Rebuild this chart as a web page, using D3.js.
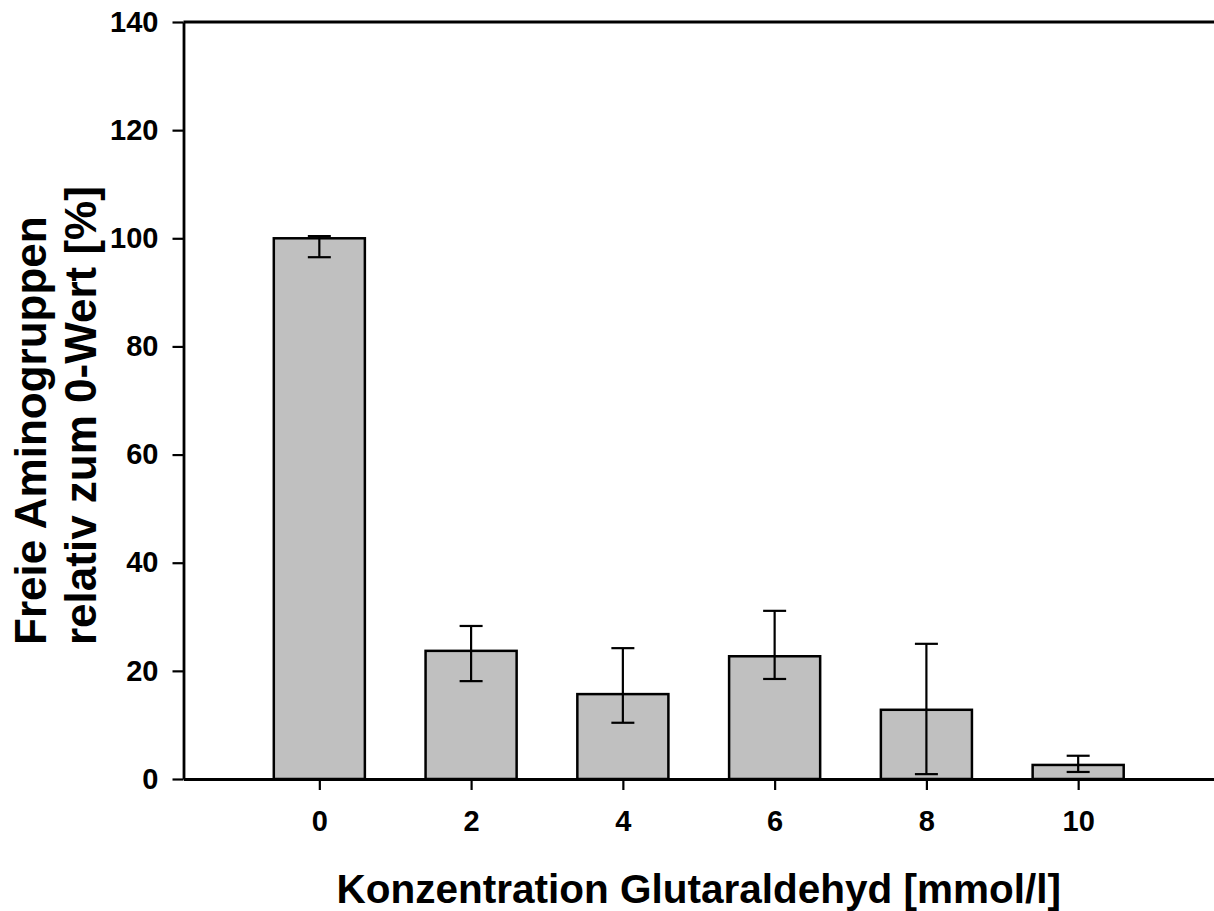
<!DOCTYPE html>
<html>
<head>
<meta charset="utf-8">
<script src="https://cdn.jsdelivr.net/npm/d3@7"></script>
<style>
  body { margin: 0; background: #fff; }
  svg text { font-family: "Liberation Sans", Arial, sans-serif; font-weight: bold; fill: #000; }
</style>
</head>
<body>
<div id="chart"></div>
<script>
var svgWidth = 1214;
var svgHeight = 911;

// data
var concentrations = [0, 2, 4, 6, 8, 10];
var means = [100, 23.7, 15.7, 22.7, 12.8, 2.6];
var errUpper = [100.4, 28.3, 24.2, 31.1, 25.0, 4.3];
var errLower = [96.5, 18.1, 10.4, 18.5, 0.9, 1.3];
var yTicks = [0, 20, 40, 60, 80, 100, 120, 140];
var xTicks = [0, 2, 4, 6, 8, 10];

var plot = { left: 183.5, right: 1214, top: 22, bottom: 779 };

var svg = d3.select("#chart")
  .append("svg")
  .attr("width", svgWidth)
  .attr("height", svgHeight);

var x = d3.scaleLinear()
  .domain([-1.79, 11.79])
  .range([plot.left, plot.right]);

var y = d3.scaleLinear()
  .domain([0, 140])
  .range([plot.bottom, plot.top]);

var barWidth = x(1.2) - x(0);

// bars
svg.selectAll("rect.bar")
  .data(concentrations)
  .enter()
  .append("rect")
  .attr("class", "bar")
  .attr("x", d => x(d) - barWidth / 2)
  .attr("y", (d, i) => y(means[i]))
  .attr("width", barWidth)
  .attr("height", (d, i) => y(0) - y(means[i]))
  .attr("fill", "#c0c0c0")
  .attr("stroke", "#000")
  .attr("stroke-width", 2.5);

// error bars
var capHalf = 11.5;
var errG = svg.append("g")
  .attr("stroke", "#000")
  .attr("stroke-width", 2.2);

concentrations.forEach(function(c, i) {
  var cx = x(c);
  errG.append("line")
    .attr("x1", cx).attr("x2", cx)
    .attr("y1", y(errUpper[i])).attr("y2", y(errLower[i]));
  errG.append("line")
    .attr("x1", cx - capHalf).attr("x2", cx + capHalf)
    .attr("y1", y(errUpper[i])).attr("y2", y(errUpper[i]));
  errG.append("line")
    .attr("x1", cx - capHalf).attr("x2", cx + capHalf)
    .attr("y1", y(errLower[i])).attr("y2", y(errLower[i]));
});

// axes
var leftAxis = d3.axisLeft(y)
  .tickValues(yTicks)
  .tickSize(11)
  .tickSizeOuter(0)
  .tickPadding(14);

var bottomAxis = d3.axisBottom(x)
  .tickValues(xTicks)
  .tickSize(11)
  .tickSizeOuter(0)
  .tickPadding(20);

var yAxisG = svg.append("g")
  .attr("transform", `translate(${plot.left}, 0)`)
  .call(leftAxis);

var xAxisG = svg.append("g")
  .attr("transform", `translate(0, ${plot.bottom})`)
  .call(bottomAxis);

[yAxisG, xAxisG].forEach(function(g) {
  g.selectAll("path.domain").attr("stroke", "#000").attr("stroke-width", 2.8);
  g.selectAll(".tick line").attr("stroke", "#000").attr("stroke-width", 2.2);
  g.selectAll(".tick text")
    .style("font-size", "29px")
    .style("font-family", "'Liberation Sans', Arial, sans-serif")
    .style("font-weight", "bold")
    .attr("fill", "#000");
});

// top frame line
svg.append("line")
  .attr("x1", plot.left).attr("x2", plot.right)
  .attr("y1", y(140)).attr("y2", y(140))
  .attr("stroke", "#000")
  .attr("stroke-width", 2.8);

// axis titles
svg.append("text")
  .attr("x", (plot.left + plot.right) / 2)
  .attr("y", 903)
  .attr("text-anchor", "middle")
  .style("font-size", "40.5px")
  .text("Konzentration Glutaraldehyd [mmol/l]");

var yTitle = svg.append("text")
  .attr("transform", "translate(46, 645) rotate(-90)")
  .attr("text-anchor", "start")
  .style("font-size", "44px");

yTitle.append("tspan")
  .attr("x", 0).attr("y", 0)
  .text("Freie Aminogruppen");

yTitle.append("tspan")
  .attr("x", 0).attr("y", 50)
  .text("relativ zum 0-Wert [%]");
</script>
</body>
</html>
